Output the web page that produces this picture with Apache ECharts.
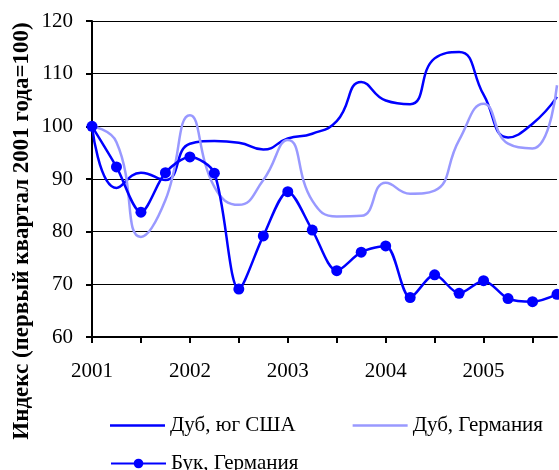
<!DOCTYPE html>
<html>
<head>
    <meta charset="utf-8" />
    <title>Индекс цен на древесину</title>
    <script src="https://cdn.jsdelivr.net/npm/echarts@6/dist/echarts.min.js"></script>
    <style>
        html, body { margin: 0; padding: 0; background: #fff; }
        #chart { width: 559px; height: 470px; }
    </style>
</head>
<body>
    <div id="chart"></div>
    <script>
        // кварталы 2001-2005
        var quarters = [
            '2001 I', '2001 II', '2001 III', '2001 IV',
            '2002 I', '2002 II', '2002 III', '2002 IV',
            '2003 I', '2003 II', '2003 III', '2003 IV',
            '2004 I', '2004 II', '2004 III', '2004 IV',
            '2005 I', '2005 II', '2005 III', '2005 IV'
        ];
        var oakUS = [100, 88.3, 91.2, 89.8, 96.7, 97.2, 96.9, 95.6, 97.7, 98.6,
                     101.0, 108.4, 104.9, 104.2, 112.9, 114.1, 106.0, 97.9, 100.5, 105.6];
        var oakDE = [100, 97.0, 79.0, 86.0, 102.1, 88.5, 85.1, 89.8, 97.4, 85.9,
                     82.9, 83.0, 89.3, 87.2, 87.8, 97.4, 104.3, 96.7, 95.8, 107.8];
        var beechDE = [100, 92.3, 83.7, 91.2, 94.2, 91.1, 69.1, 79.2, 87.6, 80.3,
                       72.6, 76.1, 77.3, 67.5, 71.8, 68.3, 70.7, 67.3, 66.7, 68.1];
        var names = ['Дуб, юг США', 'Дуб, Германия', 'Бук, Германия'];

        var font = '"Liberation Serif", "Times New Roman", serif';
        var chart = echarts.init(document.getElementById('chart'));

        chart.setOption({
            animation: false,
            textStyle: { fontFamily: font, color: '#000' },
            grid: { left: 92, right: 2, top: 21, bottom: 133 },
            graphic: [{
                type: 'text',
                x: 22, y: 231,
                rotation: Math.PI / 2,
                style: {
                    text: 'Индекс (первый квартал 2001 года=100)',
                    font: 'bold 23px ' + font,
                    fill: '#000',
                    align: 'center',
                    verticalAlign: 'middle'
                }
            }],
            legend: [{
                data: [
                    { name: names[0], icon: 'rect' },
                    { name: names[1], icon: 'rect' }
                ],
                left: 105, top: 410,
                itemGap: 57, itemWidth: 55, itemHeight: 2.5,
                textStyle: { fontFamily: font, fontSize: 21, color: '#000' }
            }, {
                data: [names[2]],
                left: 105, top: 448,
                itemWidth: 55, itemHeight: 12,
                textStyle: { fontFamily: font, fontSize: 21, color: '#000' }
            }],
            xAxis: {
                type: 'category',
                data: quarters,
                boundaryGap: false,
                axisLine: { lineStyle: { color: '#000', width: 2 } },
                axisTick: { interval: 1, length: 6, lineStyle: { color: '#000', width: 2 } },
                axisLabel: {
                    interval: 3, margin: 24, fontSize: 21, color: '#000', fontFamily: font,
                    formatter: function (v) { return v.slice(0, 4); }
                },
                splitLine: { show: false }
            },
            yAxis: {
                type: 'value',
                min: 60, max: 120, interval: 10,
                axisLine: { show: true, lineStyle: { color: '#000', width: 2 } },
                axisTick: { show: true, length: 6, lineStyle: { color: '#000', width: 2 } },
                axisLabel: { margin: 19, fontSize: 21, color: '#000', fontFamily: font },
                splitLine: { lineStyle: { color: '#000', width: 1 } }
            },
            series: [{
                name: names[0], type: 'line', data: oakUS,
                smooth: 0.5, symbol: 'none',
                lineStyle: { color: '#0000ff', width: 2.5 },
                itemStyle: { color: '#0000ff' }
            }, {
                name: names[1], type: 'line', data: oakDE,
                smooth: 0.5, symbol: 'none',
                lineStyle: { color: '#9999ff', width: 2.5 },
                itemStyle: { color: '#9999ff' }
            }, {
                name: names[2], type: 'line', data: beechDE,
                smooth: 0.3, symbol: 'circle', symbolSize: 11,
                lineStyle: { color: '#0000ff', width: 2.5 },
                itemStyle: { color: '#0000ff' }
            }]
        });
    </script>
</body>
</html>
